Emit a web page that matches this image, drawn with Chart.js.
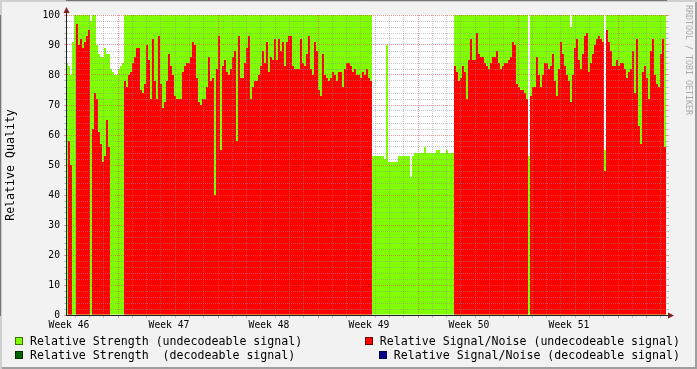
<!DOCTYPE html>
<html>
<head>
<meta charset="utf-8">
<script src="https://cdn.jsdelivr.net/npm/chart.js@4.4.1/dist/chart.umd.min.js"></script>
<style>
  html, body { margin: 0; padding: 0; background: #f2f2f2; }
  #wrap { position: relative; width: 697px; height: 369px; overflow: hidden;
          box-shadow: inset 2px 2px 0 #cfcfcf, inset -2px -2px 0 #9e9e9e; }
  #chart { position: absolute; left: 0; top: 0; }
  .item { position: absolute; height: 14px; line-height: 14px; display: flex; align-items: center;
          font: 11.6px "DejaVu Sans Mono", monospace; color: #000; white-space: pre; }
  .box { width: 8px; height: 8px; box-sizing: border-box; border: 1px solid rgba(0,0,0,0.55); margin-right: 7px; flex: none; }
  #mark { position: absolute; left: 684px; top: 5px; writing-mode: vertical-rl;
          font: 8.3px "DejaVu Sans Mono", monospace; color: #aaaaaa; white-space: pre; }
</style>
</head>
<body>
<div id="wrap">
  <canvas id="chart" width="697" height="369"></canvas>
  <div id="legend"></div>
  <div id="mark">RRDTOOL / TOBI OETIKER</div>
</div>
<script>
// one value per 2px column of the original graph (300 columns = 6 weeks), null = unknown
const strengthW1 = [84, 83, 80, 91, 100, 100, 100, 100, 100, 100,
  100, 100, 98, 100, 100, 90, 87, 86, 86, 89,
  87, 87, 82, 81, 80, 80, 82, 83, 84, 100,
  100, 100, 100, 100, 100, 100, 100, 100, 100, 100,
  100, 100, 100, 100, 100, 100, 100, 100, 100, 100];
const strengthW2 = [100, 100, 100, 100, 100, 100, 100, 100, 100, 100,
  100, 100, 100, 100, 100, 100, 100, 100, 100, 100,
  100, 100, 100, 100, 100, 100, 100, 100, 100, 100,
  100, 100, 100, 100, 100, 100, 100, 100, 100, 100,
  100, 100, 100, 100, 100, 100, 100, 100, 100, 100];
const strengthW3 = [100, 100, 100, 100, 100, 100, 100, 100, 100, 100,
  100, 100, 100, 100, 100, 100, 100, 100, 100, 100,
  100, 100, 100, 100, 100, 100, 100, 100, 100, 100,
  100, 100, 100, 100, 100, 100, 100, 100, 100, 100,
  100, 100, 100, 100, 100, 100, 100, 100, 100, 100];
const strengthW4 = [100, 100, 100, 53, 53, 53, 53, 53, 53, 52,
  90, 51, 51, 51, 51, 51, 53, 53, 53, 53,
  53, 53, 46, 53, 54, 54, 54, 54, 54, 56,
  54, 54, 54, 54, 54, 55, 55, 54, 54, 54,
  55, 54, 54, 54, 100, 100, 100, 100, 100, 100];
const strengthW5 = [100, 100, 100, 100, 100, 100, 100, 100, 100, 100,
  100, 100, 100, 100, 100, 100, 100, 100, 100, 100,
  100, 100, 100, 100, 100, 100, 100, 100, 100, 100,
  100, 53, 100, 100, 100, 100, 100, 100, 100, 100,
  100, 100, 100, 100, 100, 100, 100, 100, 100, 100];
const strengthW6 = [100, 100, 96, 100, 100, 100, 100, 100, 100, 100,
  100, 100, 100, 100, 100, 100, 100, 100, 100, 55,
  100, 100, 100, 100, 100, 100, 100, 100, 100, 100,
  100, 100, 100, 100, 100, 100, 100, 100, 100, 100,
  100, 100, 100, 100, 100, 100, 100, 100, 100, 100];

const snrW1 = [null, 58, 50, null, null, 97, 90, 92, 89, 91,
  93, 95, null, 62, 74, 72, 61, 57, 51, 53,
  65, 56, null, null, null, null, null, null, null, 78,
  76, 80, 81, 84, 86, 89, 89, 75, 74, 77,
  90, 85, 72, 92, 78, 72, 93, 77, 69, 71];
const snrW2 = [78, 87, 83, 80, 73, 72, 72, 72, 81, 83,
  84, 84, 86, 91, 90, 79, 71, 70, 72, 72,
  76, 86, 78, 79, 40, 82, 93, 55, 83, 85,
  81, 80, 82, 86, 88, 58, 93, 79, 79, 84,
  89, 93, 72, 76, 78, 78, 80, 83, 88, 84];
const snrW3 = [91, 81, 86, 85, 92, 85, 92, 88, 91, 83,
  91, 93, 93, 83, 82, 82, 82, 92, 84, 83,
  87, 93, 82, 80, 91, 88, 75, 73, 87, 80,
  79, 78, 79, 81, 80, 78, 81, 81, 76, 82,
  84, 84, 83, 81, 82, 80, 80, 79, 81, 80];
const snrW4 = [82, 79, 78, null, null, null, null, null, null, null,
  null, null, null, null, null, null, null, null, null, null,
  null, null, null, null, null, null, null, null, null, null,
  null, null, null, null, null, null, null, null, null, null,
  null, null, null, null, 83, 81, 78, 79, 83, 81];
const snrW5 = [72, 85, 92, 85, 85, 94, 87, 86, 86, 84,
  83, 82, 84, 86, 86, 88, 84, 82, 83, 84,
  84, 85, 86, 91, 90, 77, 76, 75, 75, 74,
  72, null, 73, 76, 76, 86, 80, 76, 80, 84,
  84, 82, 83, 87, 78, 73, 82, 91, 87, 83];
const snrW6 = [80, 78, 71, 80, 89, 92, 85, 82, 87, 93,
  94, 81, 84, 87, 90, 92, 93, 92, 91, 48,
  95, 91, 88, 83, 83, 85, 83, 84, 84, 82,
  79, 81, 82, 88, 74, 92, 63, 57, 81, 83,
  79, 72, 88, 92, 80, 77, 76, 87, 92, 56];

// decodeable signal was never seen in this period
const strengthDecodeable = [];
const snrDecodeable = [];

const weekLabels = ['Week 46', 'Week 47', 'Week 48', 'Week 49', 'Week 50', 'Week 51'];
const yMajorTicks = [0, 10, 20, 30, 40, 50, 60, 70, 80, 90, 100];

const strength = [].concat(strengthW1, strengthW2, strengthW3, strengthW4, strengthW5, strengthW6);
const snr = [].concat(snrW1, snrW2, snrW3, snrW4, snrW5, snrW6);
const toPoints = arr => arr.map((v, i) => ({ x: i + 0.5, y: v }));

const MINOR = 'rgba(143,143,143,0.5)';
const MAJOR = 'rgba(222,79,79,0.6)';
const axisFont = { family: 'DejaVu Sans Mono', size: 9.7 };

// x axis in column units: a day is 100/7 px = 50/7 columns
function xTicks() {
  const t = [];
  for (let k = 0; k < 42; k++) {
    const v = 26 + (k - 3) * 50 / 7;
    if (v > 0 && v < 300) t.push({ value: v, kind: (k - 3) % 7 === 0 ? 'major' : 'minor' });
  }
  weekLabels.forEach((w, i) => t.push({ value: 1.5 + 50 * i, kind: 'label', week: i }));
  return t.sort((a, b) => a.value - b.value);
}
function yTicks() {
  const t = [];
  for (let v = 0; v <= 100; v += 2) t.push({ value: v });
  return t;
}
const xGridColor = c => !c.tick ? MINOR : c.tick.kind === 'major' ? MAJOR : c.tick.kind === 'minor' ? MINOR : 'rgba(0,0,0,0)';
const yGridColor = c => c.tick && yMajorTicks.includes(c.tick.value) ? MAJOR : MINOR;

const rrdFrame = {
  id: 'rrdFrame',
  beforeDraw(chart) {
    const { ctx, chartArea: a } = chart;
    ctx.save();
    ctx.fillStyle = '#ffffff';
    ctx.fillRect(a.left, a.top, a.right - a.left, a.bottom - a.top);
    ctx.restore();
  },
  afterDraw(chart) {
    const { ctx, chartArea: a } = chart;
    ctx.save();
    ctx.strokeStyle = '#1f1f1f';
    ctx.lineWidth = 1;
    ctx.beginPath();
    ctx.moveTo(a.left + 0.5, a.bottom + 1);
    ctx.lineTo(a.left + 0.5, a.top - 4);
    ctx.moveTo(a.left, a.bottom + 0.5);
    ctx.lineTo(a.right + 4, a.bottom + 0.5);
    ctx.stroke();
    ctx.fillStyle = '#801f1f';
    ctx.beginPath();
    ctx.moveTo(a.left - 2.5, a.top - 2);
    ctx.lineTo(a.left + 3.5, a.top - 2);
    ctx.lineTo(a.left + 0.5, a.top - 8);
    ctx.closePath();
    ctx.fill();
    ctx.beginPath();
    ctx.moveTo(a.right + 2, a.bottom - 2.5);
    ctx.lineTo(a.right + 2, a.bottom + 3.5);
    ctx.lineTo(a.right + 8, a.bottom + 0.5);
    ctx.closePath();
    ctx.fill();
    ctx.restore();
  }
};

const barStyle = { grouped: false, barPercentage: 1, categoryPercentage: 1, borderWidth: 0, inflateAmount: 0 };

const chart = new Chart(document.getElementById('chart').getContext('2d'), {
  type: 'bar',
  data: {
    datasets: [
      Object.assign({ label: 'Relative Strength (undecodeable signal)', data: toPoints(strength), backgroundColor: '#80ff00', order: 3 }, barStyle),
      Object.assign({ label: 'Relative Strength  (decodeable signal)', data: toPoints(strengthDecodeable), backgroundColor: '#006400', order: 2 }, barStyle),
      Object.assign({ label: 'Relative Signal/Noise (undecodeable signal)', data: toPoints(snr), backgroundColor: '#ff0000', order: 1 }, barStyle),
      Object.assign({ label: 'Relative Signal/Noise (decodeable signal)', data: toPoints(snrDecodeable), backgroundColor: '#00008c', order: 0 }, barStyle)
    ]
  },
  options: {
    responsive: false,
    animation: false,
    events: [],
    layout: { padding: { left: 0, top: 15, right: 27, bottom: 34 } },
    plugins: { legend: { display: false }, tooltip: { enabled: false } },
    scales: {
      x: {
        type: 'linear', min: 0, max: 300, offset: false,
        afterBuildTicks: s => { s.ticks = xTicks(); },
        afterFit: s => { s.height = 20; },
        ticks: {
          autoSkip: false, maxRotation: 0, minRotation: 0, padding: 2, color: '#000', font: axisFont,
          callback: (v, i, t) => t[i] && t[i].kind === 'label' ? weekLabels[t[i].week] : ''
        },
        grid: { z: 1, offset: false, color: xGridColor, tickColor: xGridColor, tickLength: 3 },
        border: { color: '#1f1f1f', dash: [1, 1] }
      },
      y: {
        type: 'linear', position: 'left', min: 0, max: 100,
        afterBuildTicks: s => { s.ticks = yTicks(); },
        afterFit: s => { s.width = 66; },
        ticks: {
          autoSkip: false, padding: 4, color: '#000', font: axisFont,
          callback: v => yMajorTicks.includes(v) ? String(v) : ''
        },
        grid: { z: 1, color: yGridColor, tickColor: yGridColor, tickLength: 2 },
        border: { color: '#1f1f1f', dash: [1, 1] },
        title: {
          display: true, text: 'Relative Quality', color: '#000',
          font: { family: 'DejaVu Sans Mono', size: 11.6 }, padding: { top: 4, bottom: 0 }
        }
      },
      y2: {
        type: 'linear', position: 'right', min: 0, max: 100,
        afterBuildTicks: s => { s.ticks = yTicks(); },
        afterFit: s => { s.width = 4; },
        ticks: { autoSkip: false, padding: 0, font: axisFont, callback: () => '' },
        grid: { drawOnChartArea: false, tickColor: yGridColor, tickLength: 3 },
        border: { display: false }
      }
    }
  },
  plugins: [rrdFrame]
});

// rrdtool style legend: two columns, right column right-aligned
const legendSlots = [
  { left: 15, top: 334 }, { left: 15, top: 348 },
  { right: 17, top: 334 }, { right: 17, top: 348 }
];
const legendEl = document.getElementById('legend');
chart.data.datasets.forEach((ds, i) => {
  const slot = legendSlots[i];
  const item = document.createElement('div');
  item.className = 'item';
  item.style.top = slot.top + 'px';
  if (slot.left !== undefined) item.style.left = slot.left + 'px';
  else item.style.right = slot.right + 'px';
  const box = document.createElement('span');
  box.className = 'box';
  box.style.background = ds.backgroundColor;
  const txt = document.createElement('span');
  txt.textContent = ds.label;
  item.appendChild(box);
  item.appendChild(txt);
  legendEl.appendChild(item);
});
</script>
</body>
</html>
